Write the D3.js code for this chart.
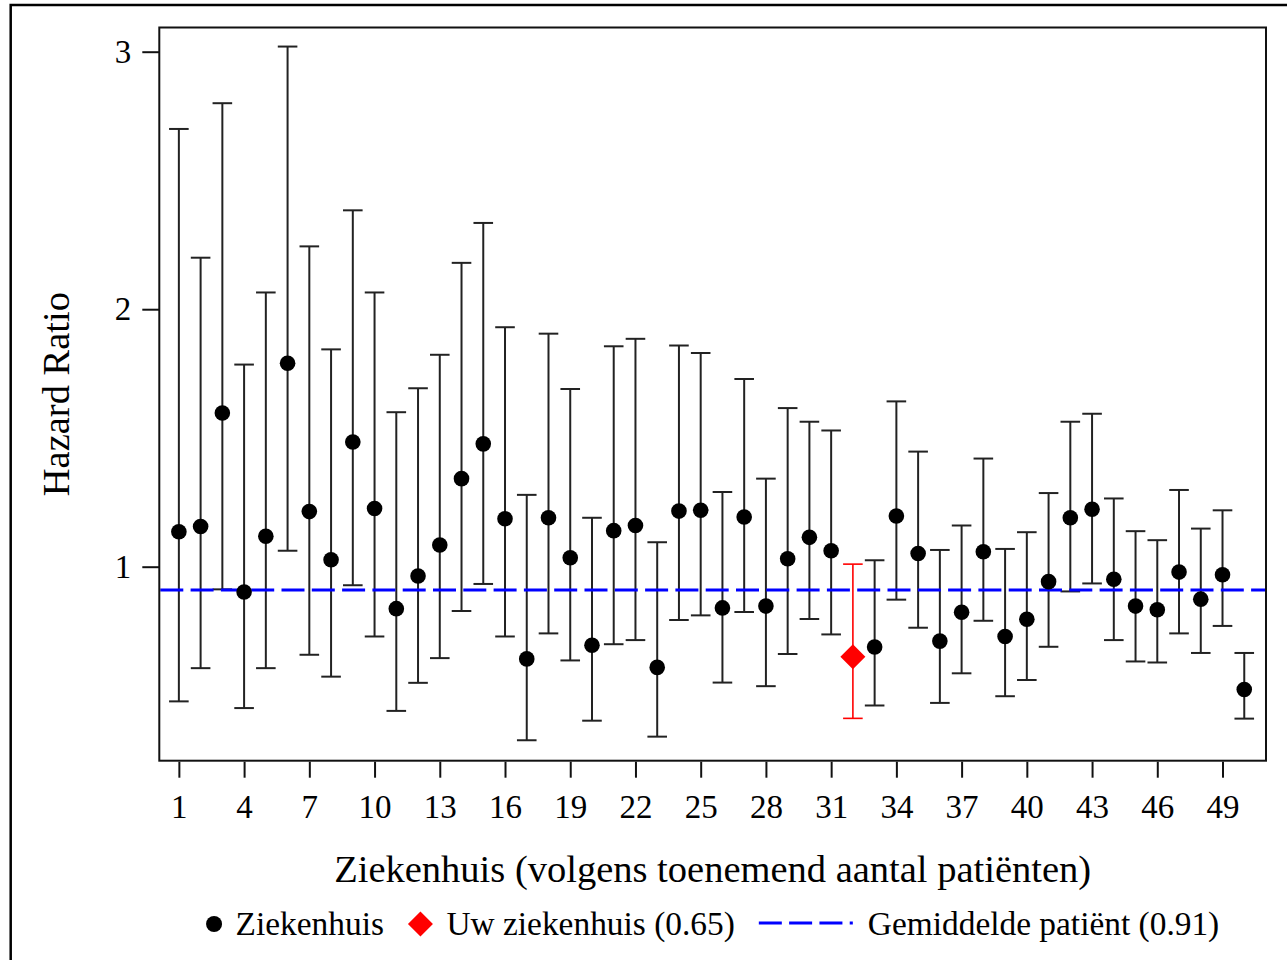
<!DOCTYPE html>
<html>
<head>
<meta charset="utf-8">
<script src="https://cdn.jsdelivr.net/npm/d3@7"></script>
<style>
  html, body { margin: 0; padding: 0; background: #fff; }
  svg { display: block; font-family: "Liberation Serif", "Times New Roman", serif; }
</style>
</head>
<body>
<svg id="chart" width="1287" height="960"></svg>
<script>
// Hospitals, ordered by increasing number of patients
const hospitals = [1, 2, 3, 4, 5, 6, 7, 8, 9, 10, 11, 12, 13, 14, 15, 16, 17, 18, 19, 20,
  21, 22, 23, 24, 25, 26, 27, 28, 29, 30, 31, 32, 33, 34, 35, 36, 37, 38, 39, 40,
  41, 42, 43, 44, 45, 46, 47, 48, 49, 50];

// Hazard ratio per hospital with its 95% confidence interval
const hazardRatio = [1.136, 1.156, 1.597, 0.902, 1.118, 1.790, 1.214, 1.027, 1.484, 1.226,
  0.837, 0.964, 1.084, 1.342, 1.477, 1.186, 0.642, 1.190, 1.035, 0.695,
  1.140, 1.160, 0.609, 1.216, 1.219, 0.840, 1.193, 0.847, 1.031, 1.114,
  1.062, 0.650, 0.688, 1.197, 1.051, 0.711, 0.823, 1.058, 0.729, 0.796,
  0.942, 1.190, 1.223, 0.951, 0.847, 0.833, 0.979, 0.874, 0.969, 0.523];
const lowerCI = [0.477, 0.606, 0.912, 0.451, 0.606, 1.062, 0.658, 0.573, 0.928, 0.729,
  0.440, 0.549, 0.645, 0.828, 0.933, 0.729, 0.326, 0.741, 0.636, 0.402,
  0.699, 0.715, 0.340, 0.793, 0.811, 0.550, 0.824, 0.536, 0.661, 0.797,
  0.737, 0.411, 0.461, 0.872, 0.763, 0.471, 0.586, 0.790, 0.497, 0.560,
  0.689, 0.904, 0.935, 0.715, 0.632, 0.628, 0.741, 0.665, 0.770, 0.410];
const upperCI = [2.700, 2.200, 2.800, 1.785, 2.065, 3.020, 2.244, 1.844, 2.384, 2.065,
  1.600, 1.693, 1.823, 2.180, 2.335, 1.930, 1.279, 1.905, 1.690, 1.190,
  1.856, 1.885, 1.095, 1.859, 1.830, 1.290, 1.729, 1.342, 1.616, 1.563,
  1.529, 1.010, 1.025, 1.642, 1.447, 1.065, 1.160, 1.420, 1.069, 1.134,
  1.286, 1.563, 1.594, 1.265, 1.138, 1.103, 1.298, 1.148, 1.219, 0.665];

const ownHospital = 32;      // "Uw ziekenhuis"
const meanPatientHR = 0.91;  // reference line for the average patient

const xTickValues = [1, 4, 7, 10, 13, 16, 19, 22, 25, 28, 31, 34, 37, 40, 43, 46, 49];
const yTickValues = [1, 2, 3];

const xTitle = "Ziekenhuis (volgens toenemend aantal patiënten)";
const yTitle = "Hazard Ratio";
const legendLabels = ["Ziekenhuis", "Uw ziekenhuis (0.65)", "Gemiddelde patiënt (0.91)"];

// ---- layout ----
const plot = { left: 159.3, right: 1266, top: 27.5, bottom: 760.7 };
const BLUE = "#0000ff", RED = "#ff0000", BAR = "#222";
const DASH = "23,7.3";
const SERIF = "'Liberation Serif', 'Times New Roman', serif";

const rows = hospitals.map((h, i) => ({
  hospital: h, hr: hazardRatio[i], lo: lowerCI[i], hi: upperCI[i], own: h === ownHospital
}));

const svg = d3.select("#chart");

const x = d3.scaleLinear().domain([0.1, 51]).range([plot.left, plot.right]);
const y = d3.scaleLinear().domain([0.2466, 3.094]).range([plot.bottom, plot.top]);

// outer border of the figure
svg.append("path")
  .attr("d", `M10.7,1000 V5 H1300`)
  .attr("fill", "none").attr("stroke", "#000").attr("stroke-width", 2.5);

// axes
const yAxis = d3.axisLeft(y).tickValues(yTickValues).tickFormat(d3.format("d"))
  .tickSize(17).tickPadding(11);
const xAxis = d3.axisBottom(x).tickValues(xTickValues).tickFormat(d3.format("d"))
  .tickSize(16).tickPadding(17);

const gy = svg.append("g").attr("transform", `translate(${plot.left},0)`).call(yAxis);
const gx = svg.append("g").attr("transform", `translate(0,${plot.bottom + 1})`).call(xAxis);
[gx, gy].forEach(g => {
  g.attr("font-family", SERIF).attr("font-size", 33);
  g.select(".domain").remove();
  g.selectAll(".tick line").attr("stroke", "#111").attr("stroke-width", 2);
  g.selectAll(".tick text").attr("fill", "#000");
});

// error bars
const capHalf = 9.8;
const bars = svg.append("g").selectAll("g").data(rows).join("g")
  .attr("stroke", d => d.own ? RED : BAR)
  .attr("stroke-width", d => d.own ? 1.6 : 2);
bars.append("line")
  .attr("x1", d => x(d.hospital)).attr("x2", d => x(d.hospital))
  .attr("y1", d => y(d.lo)).attr("y2", d => y(d.hi));
bars.append("line")
  .attr("x1", d => x(d.hospital) - capHalf).attr("x2", d => x(d.hospital) + capHalf)
  .attr("y1", d => y(d.hi)).attr("y2", d => y(d.hi));
bars.append("line")
  .attr("x1", d => x(d.hospital) - capHalf).attr("x2", d => x(d.hospital) + capHalf)
  .attr("y1", d => y(d.lo)).attr("y2", d => y(d.lo));

// average patient reference line
svg.append("line")
  .attr("x1", plot.left + 1).attr("x2", plot.right - 1)
  .attr("y1", y(meanPatientHR)).attr("y2", y(meanPatientHR))
  .attr("stroke", BLUE).attr("stroke-width", 3).attr("stroke-dasharray", DASH);

// point estimates
svg.append("g").selectAll("circle").data(rows.filter(d => !d.own)).join("circle")
  .attr("cx", d => x(d.hospital)).attr("cy", d => y(d.hr)).attr("r", 7.8)
  .attr("fill", "#000");

const diamond = s => `M0,${-s} L${s},0 L0,${s} L${-s},0 Z`;
svg.append("g").selectAll("path").data(rows.filter(d => d.own)).join("path")
  .attr("transform", d => `translate(${x(d.hospital)},${y(d.hr)})`)
  .attr("d", diamond(12.5)).attr("fill", RED);

// plot frame
svg.append("rect")
  .attr("x", plot.left).attr("y", plot.top)
  .attr("width", plot.right - plot.left).attr("height", plot.bottom - plot.top)
  .attr("fill", "none").attr("stroke", "#111").attr("stroke-width", 2);

// axis titles
svg.append("text")
  .attr("transform", `translate(69,${(plot.top + plot.bottom) / 2}) rotate(-90)`)
  .attr("text-anchor", "middle").attr("font-size", 38.5).attr("fill", "#000")
  .text(yTitle);
svg.append("text")
  .attr("x", (plot.left + plot.right) / 2).attr("y", 882)
  .attr("text-anchor", "middle").attr("font-size", 38.5).attr("fill", "#000")
  .text(xTitle);

// legend, laid out left to right and centred under the plot
const legend = svg.append("g");
const legendY = 924, legendBase = 935;
const symGap = 13.5, itemGap = 24;
let cursor = 0;
const items = [
  { w: 16, draw: (g, x0) => g.append("circle").attr("cx", x0 + 8).attr("cy", legendY).attr("r", 8).attr("fill", "#000") },
  { w: 25, draw: (g, x0) => g.append("path").attr("transform", `translate(${x0 + 12.5},${legendY})`).attr("d", diamond(12.5)).attr("fill", RED) },
  { w: 94, draw: (g, x0) => g.append("line").attr("x1", x0).attr("x2", x0 + 94).attr("y1", legendY - 1).attr("y2", legendY - 1)
      .attr("stroke", BLUE).attr("stroke-width", 3).attr("stroke-dasharray", DASH) }
];
items.forEach((it, i) => {
  it.draw(legend, cursor);
  cursor += it.w + (i === 2 ? 15 : symGap);
  const t = legend.append("text").attr("x", cursor).attr("y", legendBase)
    .attr("font-size", 33.4).attr("fill", "#000").text(legendLabels[i]);
  cursor += t.node().getComputedTextLength();
  if (i < items.length - 1) cursor += itemGap;
});
legend.attr("transform", `translate(${(plot.left + plot.right) / 2 - cursor / 2},0)`);
</script>
</body>
</html>
